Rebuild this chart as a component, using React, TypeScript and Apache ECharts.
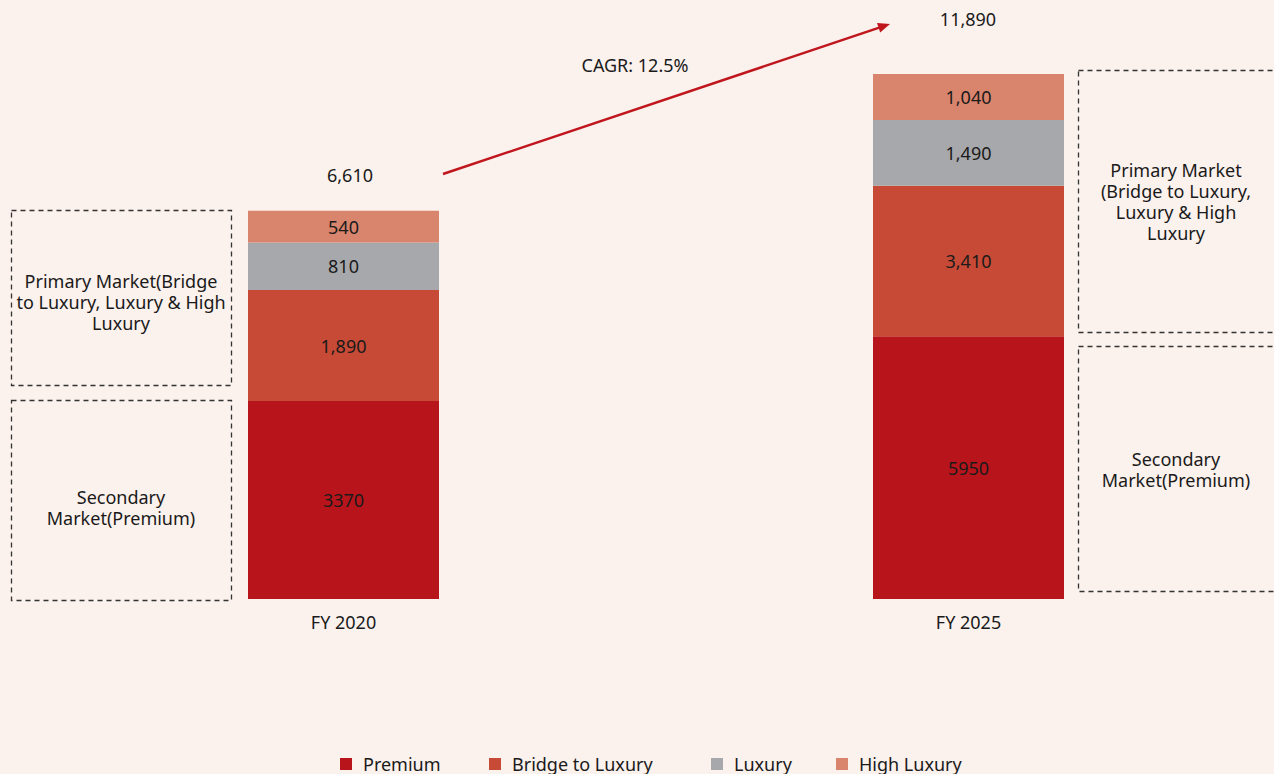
import React, { useEffect, useRef } from "react";
import * as echarts from "echarts";

const categories = ["FY 2020", "FY 2025"];
const seriesNames = ["Premium", "Bridge to Luxury", "Luxury", "High Luxury"];
const premium = [3370, 5950];
const bridgeToLuxury = [1890, 3410];
const luxury = [810, 1490];
const highLuxury = [540, 1040];
const colors = ["#b8141b", "#c64a36", "#a7a8ab", "#d9846c"];
const useComma = [false, true, true, true];
const cagrText = "CAGR: 12.5%";
const primaryLeftText = "Primary Market(Bridge\nto Luxury, Luxury & High\nLuxury";
const primaryRightText = "Primary Market\n(Bridge to Luxury,\nLuxury & High\nLuxury";
const secondaryText = "Secondary\nMarket(Premium)";

const FONT = "'Noto Sans', sans-serif";
const legendLefts = [340, 489, 711, 836];

export default function App() {
  const ref = useRef<HTMLDivElement>(null);
  useEffect(() => {
    if (!ref.current) return;
    const chart = echarts.init(ref.current, null, { renderer: "svg" });
    const values = [premium, bridgeToLuxury, luxury, highLuxury];
    const totals = categories.map((_, i) => values.reduce((s, v) => s + v[i], 0));
    const fmt = (v: number) => v.toLocaleString("en-US");
    const series: any[] = [];
    values.forEach((vals, si) => {
      categories.forEach((_, ci) => {
        series.push({
          name: seriesNames[si],
          type: "bar",
          stack: "s" + ci,
          xAxisIndex: ci,
          yAxisIndex: ci,
          barWidth: 191,
          data: [vals[ci]],
          itemStyle: { color: colors[si] },
          label: {
            show: true,
            position: "inside",
            color: "#1a1a1a",
            fontSize: 18,
            fontFamily: FONT,
            formatter: (p: any) => (useComma[si] ? fmt(p.value) : String(p.value)),
          },
        });
      });
    });
    const dashed = { stroke: "#333", lineWidth: 1.3, lineDash: [5, 4], fill: "none" };
    const textStyle = (x: number, y: number, text: string, extra: any = {}) => ({
      type: "text",
      x,
      y,
      style: {
        text,
        fill: "#1a1a1a",
        font: `18px ${FONT}`,
        align: "center",
        verticalAlign: "middle",
        lineHeight: 21,
        ...extra,
      },
    });
    chart.setOption({
      animation: false,
      backgroundColor: "#fbf1ed",
      grid: [
        { left: 248, width: 191, top: 74, bottom: 175 },
        { left: 873, width: 191, top: 74, bottom: 175 },
      ],
      xAxis: categories.map((c, i) => ({
        type: "category",
        gridIndex: i,
        data: [c],
        axisLine: { show: false },
        axisTick: { show: false },
        axisLabel: { color: "#1a1a1a", fontSize: 18, fontFamily: FONT, margin: 14 },
      })),
      yAxis: [
        { type: "value", gridIndex: 0, min: 0, max: 8940, show: false, splitLine: { show: false } },
        { type: "value", gridIndex: 1, min: 0, max: 11890, show: false, splitLine: { show: false } },
      ],
      legend: seriesNames.map((n, i) => ({
        data: [n],
        top: 755,
        left: legendLefts[i],
        padding: 0,
        icon: "rect",
        itemWidth: 12,
        itemHeight: 12,
        textStyle: { color: "#1a1a1a", fontSize: 18, fontFamily: FONT, padding: [0, 0, 0, 6] },
      })),
      series,
      graphic: [
        { type: "rect", shape: { x: 11.5, y: 210.5, width: 220, height: 175 }, style: dashed },
        { type: "rect", shape: { x: 11.5, y: 400.5, width: 220, height: 200 }, style: dashed },
        { type: "rect", shape: { x: 1078.5, y: 70.5, width: 200, height: 262 }, style: dashed },
        { type: "rect", shape: { x: 1078.5, y: 346.5, width: 200, height: 245 }, style: dashed },
        textStyle(121, 302, primaryLeftText),
        textStyle(121, 507, secondaryText),
        textStyle(1176, 201, primaryRightText),
        textStyle(1176, 469, secondaryText),
        textStyle(350, 175, fmt(totals[0])),
        textStyle(968, 19, fmt(totals[1])),
        textStyle(635, 65, cagrText),
        {
          type: "line",
          shape: { x1: 443, y1: 174, x2: 880, y2: 27.4 },
          style: { stroke: "#c0161d", lineWidth: 2.5 },
        },
        {
          type: "polygon",
          shape: { points: [[890, 24], [880.2, 32.5], [877, 23.1]] },
          style: { fill: "#c0161d" },
        },
      ],
    });
    return () => chart.dispose();
  }, []);
  return (
    <div
      ref={ref}
      style={{ position: "fixed", left: 0, top: 0, width: 1274, height: 774 }}
    />
  );
}
